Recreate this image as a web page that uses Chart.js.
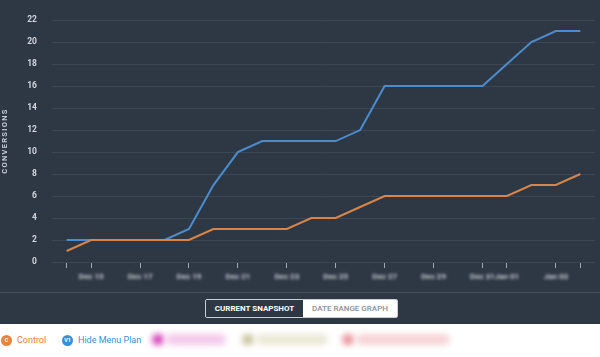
<!DOCTYPE html>
<html>
<head>
<meta charset="utf-8">
<script src="https://cdn.jsdelivr.net/npm/chart.js@4/dist/chart.umd.min.js"></script>
<style>
  html, body { margin: 0; padding: 0; background: #ffffff; width: 600px; height: 357px; overflow: hidden; font-family: Roboto, "DejaVu Sans", sans-serif; }
  #panel { position: absolute; left: 0; top: 0; width: 600px; height: 324px; background: #2e3845; }
  #chartBox { position: absolute; left: 0; top: 0; width: 600px; height: 292px; }
  #sep { position: absolute; left: 0; top: 292px; width: 600px; height: 1px; background: #46505d; }
  #btns { position: absolute; left: 205px; top: 299px; height: 19px; display: flex; border: 1px solid #c9ced6; border-radius: 2px; box-sizing: border-box; overflow: hidden; }
  .btn { font-size: 8px; font-weight: 700; line-height: 17px; padding: 0; white-space: nowrap; text-align: center; }
  .b1 { color: #ffffff; background: #2e3845; width: 97px; }
  .b2 { color: #8a9099; background: #ffffff; font-weight: 500; width: 94px; }
  #legend { position: absolute; left: 0; top: 332px; height: 16px; width: 600px; }
  .item { position: absolute; top: 0; height: 16px; display: flex; align-items: center; font-size: 9px; white-space: nowrap; }
  .dot { width: 11px; height: 11px; border-radius: 50%; color: #fff; font-size: 5.5px; font-weight: 700; display: flex; align-items: center; justify-content: center; margin-right: 5px; }
  .blob { position: absolute; top: 334px; height: 11px; filter: blur(3px); border-radius: 6px; }
</style>
</head>
<body>
<div id="panel"></div>
<div id="chartBox"><canvas id="c" width="600" height="292"></canvas></div>
<div id="sep"></div>
<div id="btns"><div class="btn b1">CURRENT SNAPSHOT</div><div class="btn b2">DATE RANGE GRAPH</div></div>
<div id="legend">
  <div class="item" style="left:1px;"><div class="dot" style="background:#e8843c;">C</div><span style="color:#e8843c;">Control</span></div>
  <div class="item" style="left:62px;"><div class="dot" style="background:#3b8fd6;">V1</div><span style="color:#3b8fd6;">Hide Menu Plan</span></div>
</div>
<div class="blob" style="left:152px;width:12px;background:#d43fb8;"></div>
<div class="blob" style="left:166px;width:60px;background:#f3c8ea;"></div>
<div class="blob" style="left:242px;width:12px;background:#c8c29a;"></div>
<div class="blob" style="left:256px;width:72px;background:#ebe8d6;"></div>
<div class="blob" style="left:342px;width:12px;background:#eb8f98;"></div>
<div class="blob" style="left:356px;width:94px;background:#f7d3d6;"></div>
<script>
const categories = ["Dec 14","Dec 15","Dec 16","Dec 17","Dec 18","Dec 19","Dec 20","Dec 21","Dec 22","Dec 23","Dec 24","Dec 25","Dec 26","Dec 27","Dec 28","Dec 29","Dec 30","Dec 31","Jan 01","Jan 02","Jan 03","Jan 04"];
const controlValues = [1,2,2,2,2,2,3,3,3,3,4,4,5,6,6,6,6,6,6,7,7,8];
const hideMenuValues = [2,2,2,2,2,3,7,10,11,11,11,11,12,16,16,16,16,16,18,20,21,21];
const tickIndices = [0,1,3,5,7,9,11,13,15,17,18,20,21];
const labelIndices = [1,3,5,7,9,11,13,15,17,18,20];
const yTicks = [0,2,4,6,8,10,12,14,16,18,20,22];

const toPoints = arr => arr.map((v, i) => ({x: i, y: v}));

const blurPlugin = {
  id: 'blurLabels',
  afterLayout(chart) {
    const xs = chart.scales.x;
    if (!xs._wrapped) {
      const orig = xs.drawLabels;
      xs.drawLabels = function(area) {
        const ctx = this.ctx;
        ctx.save();
        ctx.filter = 'blur(1.6px)';
        orig.call(this, area);
        ctx.restore();
      };
      xs._wrapped = true;
    }
    const ys = chart.scales.y;
    if (!ys._wrapped) {
      const origT = ys.drawTitle;
      ys.drawTitle = function() {
        const ctx = this.ctx;
        ctx.save();
        ctx.letterSpacing = '1.3px';
        origT.call(this);
        ctx.restore();
      };
      ys._wrapped = true;
    }
  }
};

new Chart(document.getElementById('c'), {
  type: 'line',
  data: {
    datasets: [
      { label: 'Control', data: toPoints(controlValues), borderColor: '#d9854a', borderWidth: 2, pointRadius: 0, tension: 0, fill: false },
      { label: 'Hide Menu Plan', data: toPoints(hideMenuValues), borderColor: '#4d8ccc', borderWidth: 2, pointRadius: 0, tension: 0, fill: false }
    ]
  },
  options: {
    responsive: false,
    animation: false,
    events: [],
    layout: { padding: { top: 20, right: 5, left: 1, bottom: 0 } },
    plugins: { legend: { display: false }, tooltip: { enabled: false } },
    scales: {
      x: {
        type: 'linear',
        min: -0.6,
        max: 21.6,
        afterBuildTicks(scale) { scale.ticks = tickIndices.map(v => ({ value: v })); },
        afterFit(scale) { scale.height = 30; },
        border: { display: false },
        grid: { drawOnChartArea: false, drawTicks: true, tickLength: 6, color: 'rgba(200,206,214,0.75)', lineWidth: 1 },
        ticks: {
          autoSkip: false,
          maxRotation: 0,
          padding: 4,
          color: 'rgba(225,228,233,0.85)',
          font: { family: 'Roboto, sans-serif', size: 8, weight: 'bold' },
          callback: (v) => labelIndices.includes(v) ? categories[v] : ''
        }
      },
      y: {
        min: 0,
        max: 22,
        afterBuildTicks(scale) { scale.ticks = yTicks.map(v => ({ value: v })); },
        afterFit(scale) { scale.width = 51; },
        border: { display: false },
        grid: { color: '#3c4654', lineWidth: 1, drawTicks: false },
        ticks: {
          padding: 15,
          color: '#d2d6dc',
          font: { family: 'Roboto, sans-serif', size: 8.5, weight: 'bold' }
        },
        title: {
          display: true,
          text: 'CONVERSIONS',
          color: '#c9ced6',
          padding: { top: 0, bottom: 0 },
          font: { family: 'Roboto, sans-serif', size: 7.5, weight: 'bold' }
        }
      }
    }
  },
  plugins: [blurPlugin]
});
</script>
</body>
</html>
